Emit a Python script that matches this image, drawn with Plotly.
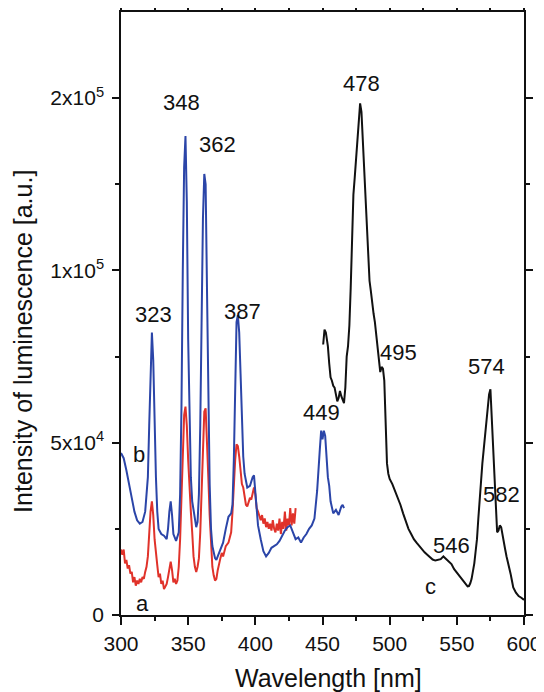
import plotly.graph_objects as go

# ---- data ----
wl_b = [300, 302, 304, 306, 308, 310, 312, 314, 316, 318, 320, 321, 322, 323, 324, 325, 326, 327, 328, 330,
        332, 334, 335, 336, 337, 338, 339, 341, 343, 344, 345, 346, 347, 348, 349, 350, 351, 352, 353, 355,
        356, 357, 358, 359, 360, 361, 362, 363, 364, 365, 366, 367, 368, 370, 371, 372, 374, 376, 378, 380,
        382, 383, 384, 385, 386, 387, 388, 389, 390, 391, 392, 394, 396, 398, 399, 400, 401, 402, 404, 406,
        408, 410, 412, 414, 416, 418, 420, 422, 424, 426, 428, 430, 432, 434, 436, 438, 440, 442, 444, 446,
        448, 449, 450, 451, 452, 453, 454, 455, 456, 458, 460, 462, 464, 465, 466]
int_b = [47000, 45500, 42000, 37500, 34000, 30000, 27500, 26500, 27000, 30000, 40000, 55000, 72000, 82000, 74000,
         55000, 40000, 30000, 25000, 23500, 23000, 22000, 25000, 30000, 33000, 29000, 23500, 21500, 24000, 35000,
         60000, 100000, 130000, 139000, 120000, 80000, 55000, 40000, 33000, 28000, 25500, 27000, 35000, 55000,
         85000, 115000, 128000, 125000, 95000, 60000, 38000, 25000, 20000, 16500, 16000, 17000, 19000, 21000,
         25000, 28500, 29500, 32000, 45000, 70000, 85000, 87000, 82000, 70000, 55000, 46000, 41000, 37000, 37500,
         40000, 40500, 36000, 30000, 26000, 22000, 18500, 17000, 18000, 19500, 20000, 20500, 21500, 23000, 24500,
         25500, 26000, 24000, 22000, 22500, 21000, 22500, 23500, 25000, 26000, 28000, 36000, 48000, 53500, 51000,
         53500, 52000, 46000, 40000, 37500, 33000, 29500, 30500, 29000, 31500, 32000, 31000]

wl_a = [300, 301, 302, 303, 304, 305, 306, 307, 308, 309, 310, 311, 312, 313, 314, 315, 316, 317, 318, 319,
        320, 321, 322, 323, 324, 325, 326, 327, 328, 329, 330, 331, 332, 333, 334, 335, 336, 337, 338, 339,
        340, 341, 342, 343, 344, 345, 346, 347, 348, 349, 350, 351, 352, 353, 354, 355, 356, 357, 358, 359,
        360, 361, 362, 363, 364, 365, 366, 367, 368, 369, 370, 371, 372, 374, 375, 376, 377, 378, 380, 381,
        382, 383, 384, 385, 386, 387, 388, 389, 390, 391, 392, 393, 394, 395, 396, 397, 398, 399, 400, 401,
        402, 403, 404, 405, 406, 407, 408, 409, 410, 411, 412, 413, 414, 415, 416, 417, 418, 419, 420, 421,
        422, 423, 424, 425, 426, 427, 428, 429, 430]
int_a = [19000, 17500, 19000, 15000, 16000, 13500, 14500, 12000, 12500, 9500, 11000, 8500, 10000, 9000, 10500,
         9500, 11000, 10500, 12500, 14000, 17000, 24000, 30000, 33000, 29000, 22000, 17000, 14500, 11000, 12000,
         9000, 10000, 7500, 8500, 9000, 11000, 14000, 15500, 13000, 9500, 10500, 9000, 10000, 14000, 22000,
         35000, 50000, 58000, 60500, 55000, 45000, 35000, 30000, 24000, 17000, 14000, 12500, 14000, 16500, 24000,
         35000, 50000, 59000, 60000, 52000, 40000, 29000, 20000, 14000, 11500, 10000, 10500, 13000, 16500, 18000,
         17000, 19000, 20000, 21000, 22500, 24000, 30000, 38000, 45000, 49500, 49000, 46000, 41000, 38000, 37000,
         35000, 32000, 31500, 33000, 34000, 33500, 35500, 37000, 35000, 31000, 30000, 28500, 27500, 29000, 26500,
         28000, 25500, 27000, 25000, 26500, 24500, 27500, 25000, 24000, 26500, 24500, 28000, 23500, 27000, 25000,
         30000, 24500, 28000, 26000, 31000, 26000, 29500, 26500, 31000]

wl_c = [450.5, 451.5, 452.5, 454, 455, 456, 457, 458, 459, 460, 461, 462, 463, 464, 465, 466, 467, 468, 469, 470,
        471, 472, 473, 474, 475, 476, 477, 478, 479, 480, 481, 482, 483, 484, 485, 486, 487, 488, 489, 490,
        491, 492, 493, 494, 495, 496, 497, 498, 499, 500, 502, 504, 506, 508, 510, 512, 514, 516, 518, 520,
        522, 524, 526, 528, 530, 532, 534, 536, 538, 540, 542, 544, 546, 548, 550, 552, 554, 556, 558, 559,
        560, 561, 562, 563, 564, 565, 566, 567, 568, 569, 570, 571, 572, 573, 574, 575, 576, 577, 578, 579,
        580, 581, 582, 583, 584, 585, 586, 587, 588, 589, 590, 591, 592, 594, 596, 598, 600]
int_c = [78500, 82800, 82000, 78000, 73000, 69000, 68000, 66500, 66000, 64000, 62000, 63000, 65000, 63500, 62500,
         61500, 66000, 75000, 78000, 84000, 95000, 110000, 122000, 127000, 133000, 138000, 144000, 148500, 146000,
         138000, 130000, 124000, 117000, 107000, 97000, 94000, 90000, 87500, 85000, 81000, 77000, 73000, 70500,
         72000, 71500, 68000, 55000, 44000, 41000, 39500, 38000, 36000, 34500, 32000, 29500, 27000, 25000, 23500,
         22000, 21000, 20000, 19000, 18200, 17500, 16800, 16100, 15800, 15900, 16200, 17000, 16300, 15500, 14800,
         13300, 12300, 11500, 10200, 9200, 8300, 8400, 9200, 10500, 12500, 15000, 18500, 22000, 28000, 34000,
         40000, 44000, 48000, 52000, 54500, 59000, 64000, 65500, 57000, 46000, 37000, 29000, 24000, 24500, 26000,
         25500, 23000, 20500, 19000, 17000, 15500, 13500, 12000, 10000, 8000, 6500, 5500, 5000, 4400]

peak_labels = ["348", "362", "323", "387", "449", "478", "495", "574", "582", "546", "c", "b", "a"]
label_x = [345.4, 371.7, 324, 390.6, 449.2, 478.7, 506.5, 572.3, 583.5, 546.2, 530.6, 313.6, 315.9]
label_y = [148800, 136600, 87200, 88200, 58800, 154300, 76100, 72200, 34900, 20300, 8200, 46500, 3200]

y_tickvals = [0, 50000, 100000, 150000]
y_ticktext = ["0", "5x10<sup>4</sup>", "1x10<sup>5</sup>", "2x10<sup>5</sup>"]

x_title = "Wavelength [nm]"
y_title = "Intensity of luminescence [a.u.]"

FONT = "Liberation Sans, Arial, sans-serif"

fig = go.Figure()
fig.add_trace(go.Scatter(x=wl_a, y=int_a, mode="lines", line=dict(color="#e0322a", width=2), name="a"))
fig.add_trace(go.Scatter(x=wl_b, y=int_b, mode="lines", line=dict(color="#2b45a8", width=2), name="b"))
fig.add_trace(go.Scatter(x=wl_c, y=int_c, mode="lines", line=dict(color="#111111", width=2), name="c"))

for t, xx, yy in zip(peak_labels, label_x, label_y):
    fig.add_annotation(x=xx, y=yy, text=t, showarrow=False, xref="x", yref="y",
                       font=dict(family=FONT, size=22, color="#111111"))

# axis titles placed as annotations for exact positioning
fig.add_annotation(text=x_title, xref="paper", yref="paper", x=0.514, y=-0.104,
                   xanchor="center", yanchor="middle", showarrow=False,
                   font=dict(family=FONT, size=25, color="#111111"))
fig.add_annotation(text=y_title, xref="paper", yref="paper", x=-0.243, y=0.453, textangle=-90,
                   xanchor="center", yanchor="middle", showarrow=False,
                   font=dict(family=FONT, size=25, color="#111111"))

# the page body adds an 8 px offset, so the margins are shifted to compensate
fig.update_layout(
    width=544, height=692,
    margin=dict(l=113, r=28, t=4, b=85),
    paper_bgcolor="white", plot_bgcolor="white",
    showlegend=False,
    font=dict(family=FONT, color="#111111"),
)
fig.update_xaxes(
    range=[300, 600], tick0=300, dtick=50, showgrid=False, zeroline=False, automargin=False,
    showline=True, linecolor="#111111", linewidth=1.5, mirror="ticks",
    ticks="outside", ticklen=8, tickwidth=1.5, tickcolor="#111111",
    minor=dict(dtick=25, ticks="outside", ticklen=4, tickcolor="#111111", tickwidth=1.5),
    tickfont=dict(family=FONT, size=21, color="#111111"), ticklabelstandoff=1,
)
fig.update_yaxes(
    range=[0, 175000], tickvals=y_tickvals, ticktext=y_ticktext, showgrid=False, zeroline=False, automargin=False,
    showline=True, linecolor="#111111", linewidth=1.5, mirror="ticks",
    ticks="outside", ticklen=7, tickwidth=1.5, tickcolor="#111111",
    minor=dict(tickvals=[25000, 75000, 125000], ticks="outside", ticklen=4, tickcolor="#111111", tickwidth=1.5),
    tickfont=dict(family=FONT, size=21, color="#111111"), ticklabelstandoff=4,
)

fig.write_html("out.html")
